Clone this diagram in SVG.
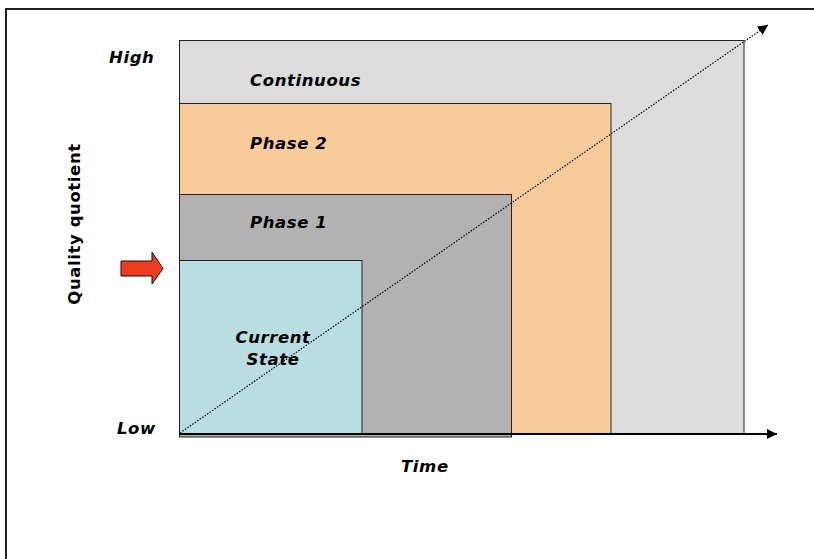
<svg xmlns="http://www.w3.org/2000/svg" width="814" height="559" viewBox="0 0 814 559">
<defs>
<style>
.lbl{font-family:"DejaVu Sans","Verdana",sans-serif;font-weight:bold;font-style:italic;font-size:16.5px;letter-spacing:0.6px;fill:#000}
.ax{font-family:"DejaVu Sans","Verdana",sans-serif;font-weight:bold;font-size:16.5px;letter-spacing:0.6px;fill:#000}
.box{stroke:#222;stroke-width:1}
</style>
<marker id="ah" viewBox="0 0 10 10" refX="10" refY="5" markerWidth="10" markerHeight="10" markerUnits="userSpaceOnUse" orient="auto">
<path d="M0,0 L10,5 L0,10 z" fill="#000"/>
</marker>
</defs>
<rect width="814" height="559" fill="#fff"/>
<path d="M6,559 V9 H814" fill="none" stroke="#222" stroke-width="2"/>

<g id="continuous">
<rect class="box" x="179.5" y="40.5" width="564.5" height="393" fill="#dcdcdc"/>
<text class="lbl" x="250" y="86">Continuous</text>
</g>
<g id="phase2">
<rect class="box" x="179.5" y="103.5" width="431.5" height="330" fill="#f9cb9b"/>
<text class="lbl" x="250" y="149">Phase 2</text>
</g>
<g id="phase1">
<rect class="box" x="179.5" y="194.5" width="332" height="242.5" fill="#b2b2b2"/>
<text class="lbl" x="250" y="228">Phase 1</text>
</g>
<g id="current">
<rect class="box" x="179.5" y="260.5" width="182.5" height="173" fill="#b9dde0"/>
<text class="lbl" x="273" y="343" text-anchor="middle">Current</text>
<text class="lbl" x="273" y="365" text-anchor="middle">State</text>
</g>

<g id="pointer">
<path d="M121,261 H152 V252 L163,268.5 L152,284 V276 H121 z" fill="#ee3b22" stroke="#111" stroke-width="1"/>
</g>

<g id="labels">
<text class="lbl" x="109" y="63">High</text>
<text class="lbl" x="117" y="434">Low</text>
<text class="lbl" x="401" y="472">Time</text>
<text class="ax" transform="translate(80,224) rotate(-90)" text-anchor="middle">Quality quotient</text>
</g>

<g id="connectors">
<line x1="179" y1="434" x2="777" y2="434" stroke="#000" stroke-width="2" marker-end="url(#ah)"/>
<line x1="180" y1="433" x2="768" y2="25" stroke="#000" stroke-width="1.2" stroke-dasharray="1.5,1.5" marker-end="url(#ah)"/>
</g>
</svg>
